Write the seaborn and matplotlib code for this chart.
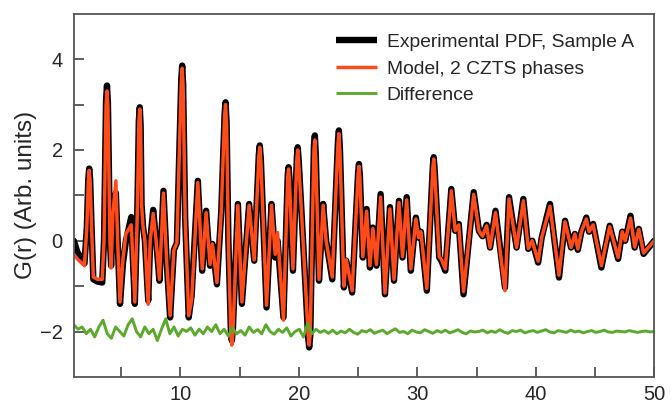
import numpy as np
import pandas as pd
import matplotlib
matplotlib.use("Agg")
import matplotlib.pyplot as plt
import seaborn as sns
from matplotlib.ticker import FixedLocator

# ---------------- data ----------------
r_pts = [1.0, 1.3, 1.9, 2.1, 2.3, 2.5, 2.65, 3.0, 3.4, 3.55, 3.8, 4.05, 4.15, 4.3, 4.55,
         4.7, 4.9, 5.15, 5.4, 5.85, 6.0, 6.15, 6.35, 6.57, 6.72, 6.85, 7.0, 7.28, 7.45,
         7.7, 7.95, 8.23, 8.57, 8.85, 9.13, 9.45, 9.7, 10.15, 10.4, 10.7, 10.95, 11.47,
         11.84, 12.17, 12.5, 12.7, 13.08, 13.45, 13.81, 14.05, 14.34, 14.85, 15.19, 15.8,
         16.23, 16.7, 17.27, 17.69, 18.0, 18.2, 18.7, 19.13, 19.5, 19.9, 20.25, 20.87,
         21.35, 21.7, 22.05, 22.3, 22.82, 23.38, 23.8, 24.0, 24.5, 25.07, 25.4, 25.72,
         26.0, 26.25, 26.55, 26.9, 27.27, 27.69, 28.03, 28.45, 28.75, 29.1, 29.45, 29.88,
         30.1, 30.3, 30.8, 31.38, 31.85, 32.05, 32.36, 32.87, 33.2, 33.5, 33.9, 34.76,
         35.2, 35.5, 35.85, 36.14, 36.6, 37.4, 37.74, 38.38, 38.95, 39.37, 39.7, 40.2,
         40.5, 41.2, 41.96, 42.47, 42.98, 43.3, 43.55, 43.85, 44.27, 44.5, 44.84, 45.54,
         46.24, 46.95, 47.3, 47.55, 48.0, 48.35, 48.7, 49.1, 50.0]

g_exp = [0.0, -0.25, -0.5, 0.3, 1.59, 0.3, -0.85, -0.9, -0.92, 0.0, 3.42, 0.0, -0.55, 0.4, 1.05,
         0.0, -1.39, -0.5, 0.0, 0.52, -0.5, -1.39, 0.5, 2.94, 0.8, 0.3, 0.0, -1.32, 0.0,
         0.68, 0.0, -0.88, 1.1, -0.5, -1.69, -0.2, -0.05, 3.86, 0.5, -1.69, -1.2, 1.32,
         -0.66, 0.66, -0.55, -0.07, -0.96, 0.66, 3.05, 0.0, -2.2, 0.81, -1.39, 0.81,
         -0.44, 2.1, -1.47, 0.81, -0.37, 0.0, -1.69, 1.62, -0.66, 2.06, 0.5, -2.35,
         2.32, -0.88, 0.81, 0.0, -0.85, 2.43, -1.03, -0.44, -1.14, 1.69, -0.37, 0.7,
         -0.59, 0.29, -0.55, 1.03, -1.18, 0.74, -0.88, 0.88, -0.37, 0.96, -0.66, 0.51,
         0.07, 0.2, -1.1, 1.84, -0.37, -0.45, -0.66, 1.14, 0.22, 0.37, -1.18, 1.07,
         0.22, 0.1, 0.35, -0.15, 0.66, -1.03, 0.96, -0.15, 0.92, -0.18, 0.0, -0.48,
         0.07, 0.81, -0.81, 0.44, -0.15, 0.15, -0.2, 0.2, 0.51, 0.2, 0.37, -0.59,
         0.33, -0.4, 0.2, 0.0, 0.55, -0.15, 0.26, -0.29, 0.0]

g_model = [-0.3, -0.4, -0.55, 0.3, 1.55, 0.3, -0.8, -0.85, -0.85, 0.0, 3.3, 0.0, -0.6, 0.6, 1.32,
           0.0, -1.35, -0.4, 0.15, 0.35, -0.5, -1.35, 0.5, 2.9, 0.8, 0.3, 0.0, -1.4, 0.0,
           0.6, 0.0, -0.85, 1.05, -0.5, -1.65, -0.2, -0.05, 3.8, 0.5, -1.65, -1.3, 1.28,
           -0.62, 0.62, -0.52, -0.07, -0.92, 0.66, 3.0, 0.0, -2.3, 0.78, -1.35, 0.78,
           -0.42, 2.06, -1.42, 0.78, -0.3, 0.18, -1.75, 1.58, -0.62, 2.0, 0.5, -2.3,
           2.22, -0.85, 0.78, 0.0, -0.8, 2.36, -1.0, -0.42, -1.1, 1.64, -0.35, 0.65,
           -0.55, 0.27, -0.52, 0.96, -1.15, 0.7, -0.85, 0.84, -0.35, 0.9, -0.62, 0.48,
           0.07, 0.2, -1.05, 1.8, -0.35, -0.42, -0.62, 1.1, 0.22, 0.35, -1.12, 1.02,
           0.22, 0.1, 0.33, -0.15, 0.62, -1.1, 0.92, -0.15, 0.88, -0.17, 0.0, -0.45,
           0.07, 0.76, -0.76, 0.42, -0.15, 0.15, -0.18, 0.2, 0.48, 0.2, 0.35, -0.55,
           0.31, -0.37, 0.2, 0.0, 0.5, -0.14, 0.25, -0.27, 0.0]

# extra points read on the flanks of the strongest peaks / troughs
r_flank = [2.22, 2.38, 3.72, 3.88, 6.49, 6.64, 10.07, 10.23, 13.73, 13.9, 16.62, 16.79,
           21.27, 21.43, 23.3, 23.47, 14.26, 14.43, 20.79, 20.96, 19.83, 19.98,
           25.0, 25.15, 31.31, 31.46, 19.06, 19.2]
g_flank_exp = [1.35, 1.35, 3.1, 3.05, 2.65, 2.55, 3.55, 3.45, 2.8, 2.6, 1.9, 1.8,
               2.1, 1.9, 2.2, 2.0, -2.0, -1.95, -2.15, -2.1, 1.85, 1.8,
               1.5, 1.45, 1.65, 1.6, 1.45, 1.4]
g_flank_mod = [1.3, 1.3, 3.0, 2.95, 2.6, 2.5, 3.5, 3.4, 2.75, 2.55, 1.86, 1.76,
               2.0, 1.8, 2.14, 1.95, -2.1, -2.05, -2.1, -2.05, 1.8, 1.75,
               1.46, 1.4, 1.6, 1.56, 1.42, 1.36]

diff_vals = [-1.85, -1.95, -1.9, -2.05, -1.95, -2.12, -1.9, -1.75, -2.05, -2.15, -1.9, -2.0,
             -2.1, -1.85, -1.72, -2.0, -2.12,
             -1.9, -2.05, -1.95, -2.2, -1.95, -1.72, -2.05, -1.9, -2.1, -1.95, -2.0, -1.92,
             -2.08, -1.95, -2.05, -1.9, -2.0, -1.85, -2.05, -1.95,
             -2.1, -1.92, -2.05, -1.98, -2.08, -1.9, -2.02, -1.96, -2.05, -1.85, -2.0, -2.06,
             -1.95, -2.02, -1.92, -2.1, -2.0, -1.95, -2.12, -1.82, -2.05, -1.95, -2.02,
             -1.98, -2.04, -1.97, -2.05, -1.99, -2.03, -1.95, -2.02, -2.06, -1.98, -2.01,
             -1.96, -2.04, -2.0, -1.97, -2.05, -1.99, -1.94, -2.02, -2.0, -2.05, -1.97,
             -2.01, -2.03, -1.96, -2.0, -2.04, -1.98, -2.02, -1.97, -2.03, -2.0, -1.96,
             -2.02, -2.05, -1.99, -2.01,
             -2.0, -1.97, -2.03, -1.99, -2.02, -1.96, -2.01, -2.04, -1.98, -2.0, -1.97,
             -2.03, -2.0, -1.98, -2.02, -1.99, -1.96, -2.01, -2.03, -1.98, -2.0, -2.02,
             -1.97, -2.01, -1.99, -2.03, -2.0, -1.98, -2.02, -2.0, -1.97, -2.01, -2.02,
             -1.99, -2.0, -2.01, -1.98, -2.0, -2.02, -2.0, -1.99, -2.01, -2.0]
r_diff = np.linspace(1.0, 50.0, len(diff_vals))

labels = ["Experimental PDF, Sample A", "Model, 2 CZTS phases", "Difference"]
x_ticks = [10, 20, 30, 40, 50]
y_ticks = [-2, 0, 2, 4]

# ---------------- tables ----------------
df_exp = pd.concat([pd.DataFrame({"r": r_pts, "G": g_exp}),
                    pd.DataFrame({"r": r_flank, "G": g_flank_exp})]).sort_values("r")
df_mod = pd.concat([pd.DataFrame({"r": r_pts, "G": g_model}),
                    pd.DataFrame({"r": r_flank, "G": g_flank_mod})]).sort_values("r")
df_dif = pd.DataFrame({"r": r_diff, "G": diff_vals})

# ---------------- plotting ----------------
sns.set_theme(style="white")
plt.rcParams["font.family"] = ["Liberation Sans", "DejaVu Sans"]

fig = plt.figure(figsize=(6.71, 4.07), dpi=100)
ax = fig.add_axes([0.110, 0.074, 0.865, 0.892])

sns.lineplot(data=df_exp, x="r", y="G", ax=ax, color="black", lw=4.6,
             estimator=None, sort=False, label=labels[0],
             solid_joinstyle="round", solid_capstyle="round")
sns.lineplot(data=df_mod, x="r", y="G", ax=ax, color="#FF4A1A", lw=2.5,
             estimator=None, sort=False, label=labels[1],
             solid_joinstyle="round", solid_capstyle="round")
sns.lineplot(data=df_dif, x="r", y="G", ax=ax, color="#5BAA2C", lw=2.1,
             estimator=None, sort=False, label=labels[2],
             solid_joinstyle="round")

ax.set_xlim(1, 50)
ax.set_ylim(-3, 5)
ax.set_xlabel("")
ax.set_ylabel("G(r) (Arb. units)", fontsize=17.5, labelpad=2)

ax.xaxis.set_major_locator(FixedLocator(x_ticks))
ax.xaxis.set_minor_locator(FixedLocator([5, 15, 25, 35, 45]))
ax.yaxis.set_major_locator(FixedLocator(y_ticks))
ax.yaxis.set_minor_locator(FixedLocator([-1, 1, 3]))
ax.tick_params(axis="both", which="both", direction="in", length=7, width=1.2,
               color="#444444", labelsize=14.5, top=False, right=False,
               bottom=True, left=True)
ax.tick_params(axis="x", pad=6)
ax.tick_params(axis="y", pad=8)
for s in ax.spines.values():
    s.set_color("#555555")
    s.set_linewidth(1.3)

leg = ax.legend(loc="upper right", bbox_to_anchor=(0.988, 0.983), frameon=False,
                fontsize=13.9, handlelength=2.1, handletextpad=0.5,
                labelspacing=0.47, borderaxespad=0.3)
for h in leg.get_lines():
    h.set_solid_capstyle("butt")

fig.savefig("out.png", dpi=100)
